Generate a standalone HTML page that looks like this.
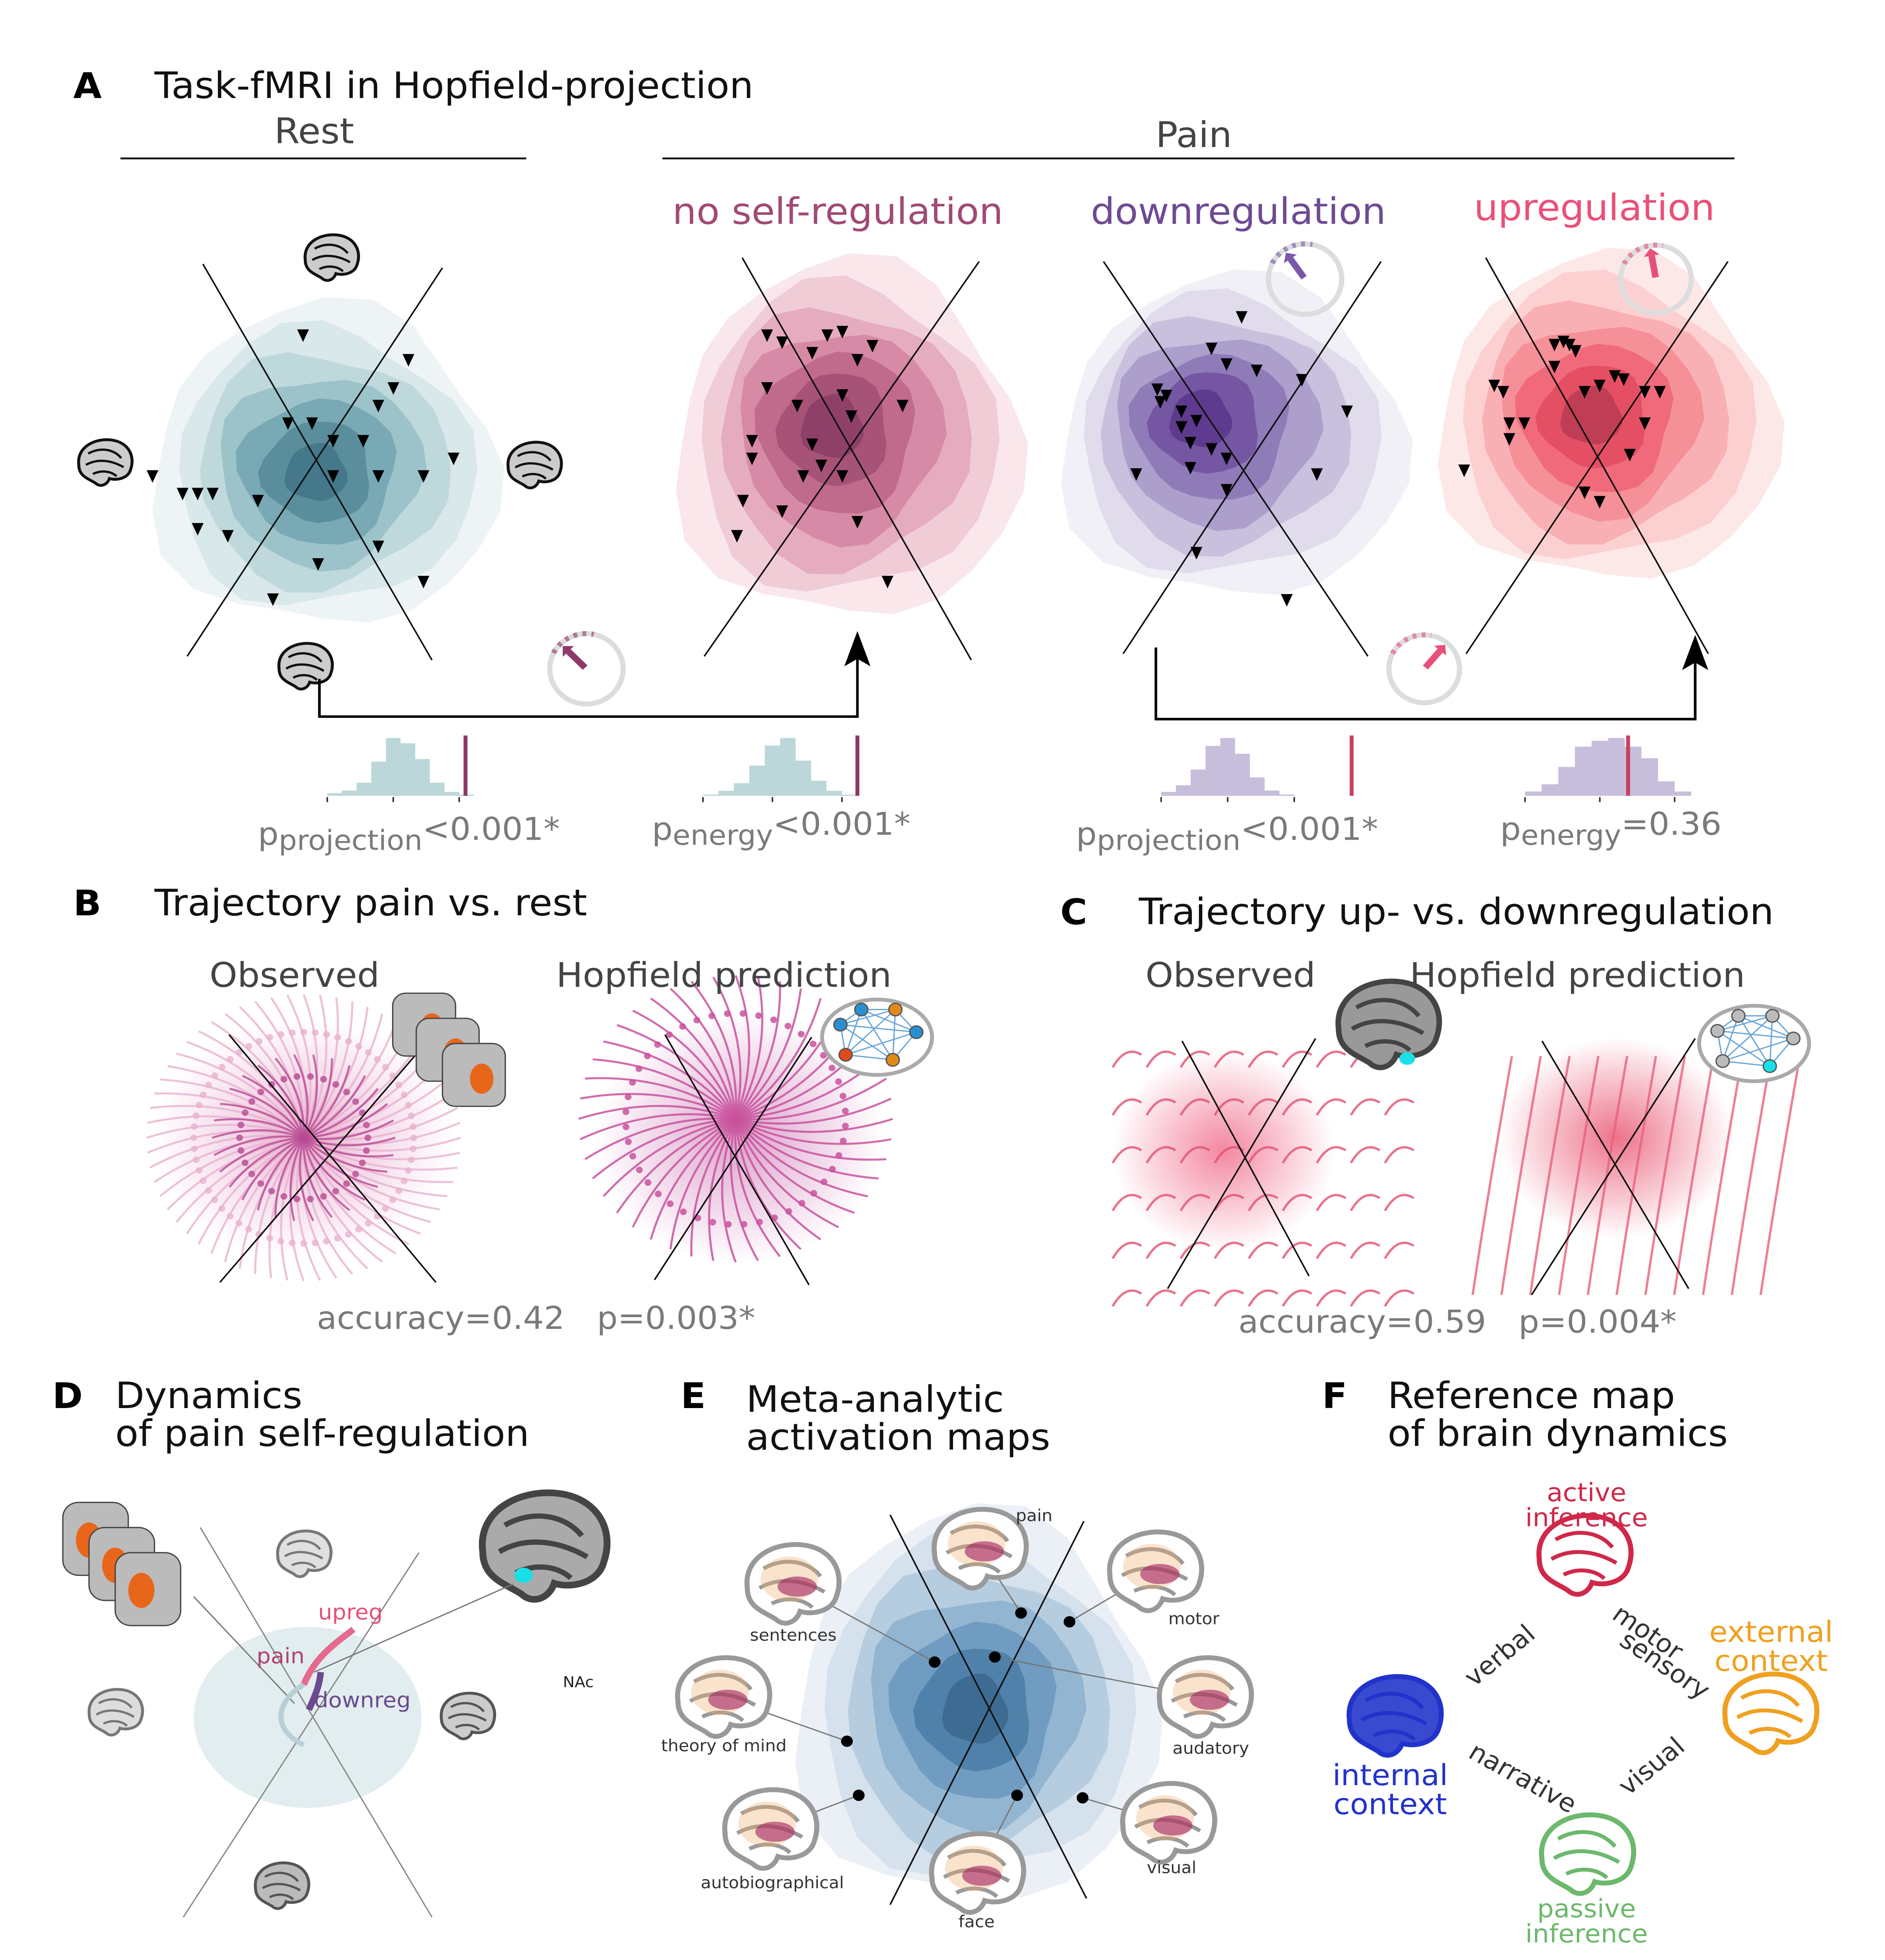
<!DOCTYPE html>
<html><head><meta charset="utf-8">
<style>
html,body{margin:0;padding:0;background:#fff;overflow:hidden;width:100%;height:100%;}
svg{display:block;position:fixed;left:0;top:0;width:100vw;height:100vh;font-family:"DejaVu Sans","Liberation Sans",sans-serif;}
</style></head>
<body>
<svg id="fig" xmlns="http://www.w3.org/2000/svg" viewBox="0 0 1440 1559" preserveAspectRatio="none">
<g id="static">
<text x="56" y="78" font-size="28" font-weight="bold">A</text>
<text x="118" y="78" font-size="29" fill="#111">Task-fMRI in Hopfield-projection</text>
<text x="240" y="114" font-size="28" fill="#444" text-anchor="middle">Rest</text>
<line x1="92" y1="126" x2="402" y2="126" stroke="#111" stroke-width="1.5"/>
<text x="912" y="117" font-size="28" fill="#444" text-anchor="middle">Pain</text>
<line x1="506" y1="126" x2="1325" y2="126" stroke="#111" stroke-width="1.5"/>
<text x="640" y="178" font-size="29" fill="#a04a74" text-anchor="middle">no self-regulation</text>
<text x="946" y="178" font-size="29" fill="#6e4a94" text-anchor="middle">downregulation</text>
<text x="1218" y="175" font-size="29" fill="#ea5078" text-anchor="middle">upregulation</text>

<text x="197" y="672" font-size="25" fill="#7a7a7a">p<tspan font-size="22" dy="4">projection</tspan><tspan dy="-8">&lt;0.001*</tspan></text>
<text x="498" y="668" font-size="25" fill="#7a7a7a">p<tspan font-size="22" dy="4">energy</tspan><tspan dy="-8">&lt;0.001*</tspan></text>
<text x="822" y="672" font-size="25" fill="#7a7a7a">p<tspan font-size="22" dy="4">projection</tspan><tspan dy="-8">&lt;0.001*</tspan></text>
<text x="1146" y="668" font-size="25" fill="#7a7a7a">p<tspan font-size="22" dy="4">energy</tspan><tspan dy="-8">=0.36</tspan></text>

<text x="56" y="728" font-size="28" font-weight="bold">B</text>
<text x="118" y="728" font-size="29" fill="#111">Trajectory pain vs. rest</text>
<text x="225" y="785" font-size="27" fill="#444" text-anchor="middle">Observed</text>
<text x="553" y="785" font-size="27" fill="#444" text-anchor="middle">Hopfield prediction</text>
<text x="242" y="1057" font-size="25" fill="#7a7a7a">accuracy=0.42</text>
<text x="456" y="1057" font-size="25" fill="#7a7a7a">p=0.003*</text>

<text x="810" y="735" font-size="28" font-weight="bold">C</text>
<text x="870" y="735" font-size="29" fill="#111">Trajectory up- vs. downregulation</text>
<text x="940" y="785" font-size="27" fill="#444" text-anchor="middle">Observed</text>
<text x="1205" y="785" font-size="27" fill="#444" text-anchor="middle">Hopfield prediction</text>
<text x="946" y="1060" font-size="25" fill="#7a7a7a">accuracy=0.59</text>
<text x="1160" y="1060" font-size="25" fill="#7a7a7a">p=0.004*</text>

<text x="40" y="1120" font-size="28" font-weight="bold">D</text>
<text x="88" y="1120" font-size="29" fill="#111">Dynamics</text>
<text x="88" y="1150" font-size="29" fill="#111">of pain self-regulation</text>
<text x="520" y="1120" font-size="28" font-weight="bold">E</text>
<text x="570" y="1123" font-size="29" fill="#111">Meta-analytic</text>
<text x="570" y="1153" font-size="29" fill="#111">activation maps</text>
<text x="1010" y="1120" font-size="28" font-weight="bold">F</text>
<text x="1060" y="1120" font-size="29" fill="#111">Reference map</text>
<text x="1060" y="1150" font-size="29" fill="#111">of brain dynamics</text>
</g>
</svg>
<script>
const NS="http://www.w3.org/2000/svg";
const svg=document.getElementById('fig');
function mk(tag,attrs,parent){const e=document.createElementNS(NS,tag);for(const k in attrs)e.setAttribute(k,attrs[k]);(parent||svg).appendChild(e);return e;}

// ---------- data ----------
const restPoints=[[-0.05,-0.35],[0.25,-0.2],[0.3,-0.28],[0.2,-0.15],[-0.1,-0.1],[-0.02,-0.1],[0.05,-0.05],[0.15,-0.05],[0.35,0.05],[-0.55,0.05],[-0.4,0.1],[-0.45,0.1],[-0.35,0.1],[0.05,0.05],[0.2,0.05],[0.45,0.0],[0.05,0.05],[-0.2,0.12],[-0.4,0.2],[-0.3,0.22],[0.2,0.25],[0.0,0.3],[0.35,0.35],[-0.15,0.4]];
const noRegPoints=[[-0.3,-0.35],[-0.25,-0.33],[-0.1,-0.35],[-0.05,-0.36],[-0.15,-0.3],[0.05,-0.32],[0.0,-0.28],[-0.3,-0.2],[-0.2,-0.15],[-0.05,-0.18],[-0.02,-0.12],[-0.35,-0.05],[-0.35,0.0],[-0.15,-0.04],[-0.12,0.02],[-0.18,0.05],[-0.05,0.05],[-0.38,0.12],[-0.25,0.15],[0.0,0.18],[-0.4,0.22],[0.1,0.35],[0.15,-0.15]];
const downPoints=[[-0.05,-0.45],[-0.15,-0.35],[-0.1,-0.3],[0.0,-0.28],[-0.3,-0.2],[-0.33,-0.22],[-0.25,-0.15],[-0.2,-0.12],[-0.25,-0.1],[-0.22,-0.05],[-0.15,-0.03],[-0.1,0.0],[-0.22,0.03],[-0.4,0.05],[-0.1,0.1],[0.2,0.05],[0.15,-0.25],[0.3,-0.15],[-0.2,0.3],[0.1,0.45],[-0.32,-0.18]];
const upPoints=[[-0.15,-0.35],[-0.12,-0.36],[-0.1,-0.35],[-0.08,-0.33],[0.0,-0.22],[0.05,-0.25],[0.08,-0.24],[-0.05,-0.2],[-0.35,-0.22],[-0.32,-0.2],[0.15,-0.2],[0.2,-0.2],[-0.3,-0.1],[-0.25,-0.1],[-0.3,-0.05],[0.15,-0.1],[0.1,0.0],[-0.45,0.05],[-0.05,0.12],[0.0,0.15],[-0.15,-0.28]];
const histCat=['b1','b2','b3','b4','b5','b6','b7','b8','b9','b10'];
const histRest1=[2,4,10,26,44,40,28,10,3,1];
const histRest2=[1,4,10,24,40,46,28,12,4,1];
const histDown1=[3,8,20,38,44,32,14,4,1,0];
const histUp2=[3,8,20,34,38,40,34,26,10,3];
const obsRest1=0.82, obsRest2=1.0, obsDown1=0.92, obsUp2=0.62;

// ---------- helpers ----------
function blob(cx,cy,rx,ry,colors,name,shift){
  const g=mk('g',{});
  
  
  const n=colors.length;
  colors.forEach((c,i)=>{
    const f=1-i/(n+0.3);
    const pts=[];
    for(let k=0;k<24;k++){
      const a=k/24*Math.PI*2;
      const wob=1+0.06*Math.sin(a*3+i)+0.04*Math.cos(a*5+i*2);
      const x=cx+shift[0]*(1-f)+Math.cos(a)*rx*f*wob;
      const y=cy+shift[1]*(1-f)+Math.sin(a)*ry*f*wob;
      pts.push(x.toFixed(1)+','+y.toFixed(1));
    }
    const p=mk('polygon',{points:pts.join(' '),fill:c},g);
    
    
  });
  return g;
}
function xlines(a,b,name,col,w){
  const l1=mk('line',{x1:a[0],y1:a[1],x2:a[2],y2:a[3],stroke:col||'#111','stroke-width':w||1.2});
  
  
  const l2=mk('line',{x1:b[0],y1:b[1],x2:b[2],y2:b[3],stroke:col||'#111','stroke-width':w||1.2});
  
  
}
function tri(pts,cx,cy,sx,sy,name){
  pts.forEach((p,i)=>{
    const x=cx+p[0]*sx,y=cy+p[1]*sy;
    const t=mk('polygon',{points:`${x-4.5},${y-5} ${x+4.5},${y-5} ${x},${y+5}`,fill:'#000'});
    
    
  });
}
function brain(x,y,s,fill,stroke,name){
  const g=mk('g',{transform:`translate(${x},${y}) scale(${s})`});
  
  
  mk('path',{d:'M-22,2 C-24,-14 -8,-22 6,-20 C20,-18 26,-6 22,6 C20,14 10,16 4,14 C2,20 -4,22 -8,18 C-14,14 -22,12 -22,2 Z',fill:fill,stroke:stroke,'stroke-width':2.5},g);
  mk('path',{d:'M-14,-8 C-4,-14 8,-12 14,-4 M-16,2 C-6,-4 6,-2 16,4 M-10,10 C-2,6 6,8 10,12',fill:'none',stroke:stroke,'stroke-width':2},g);
  return g;
}
function dial(cx,cy,r,col,ang,name){
  const g=mk('g',{});
  
  
  mk('circle',{cx:cx,cy:cy,r:r,fill:'none',stroke:'#ddd','stroke-width':4},g);
  mk('path',{d:`M${cx-r*0.9},${cy-r*0.45} A${r},${r} 0 0 1 ${cx+r*0.2},${cy-r*0.98}`,fill:'none',stroke:col,'stroke-width':4,'stroke-dasharray':'3 4',opacity:0.6},g);
  const a=ang*Math.PI/180, x2=cx+Math.cos(a)*r*0.7, y2=cy+Math.sin(a)*r*0.7;
  const x1=cx+Math.cos(a)*r*0.05, y1=cy+Math.sin(a)*r*0.05;
  mk('line',{x1:x1,y1:y1,x2:x2,y2:y2,stroke:col,'stroke-width':5},g);
  const px=Math.cos(a+Math.PI/2)*6, py=Math.sin(a+Math.PI/2)*6;
  mk('polygon',{points:`${x2+Math.cos(a)*6},${y2+Math.sin(a)*6} ${x2+px},${y2+py} ${x2-px},${y2-py}`,fill:col},g);
}
function hist(vals,x0,x1,base,h,col,obs,obsCol,name){
  const max=Math.max(...vals), bw=(x1-x0)/vals.length;
  const xs=v=>x0+v*(x1-x0);
  vals.forEach((v,i)=>{
    const hh=v/max*h;
    const r=mk('rect',{x:x0+i*bw,y:base-hh,width:bw,height:hh,fill:col});
    
    
  });
  const l=mk('line',{x1:xs(obs),y1:base,x2:xs(obs),y2:base-h-2,stroke:obsCol,'stroke-width':3});
  
  
  [0,0.45,0.9].forEach(t=>{const k=mk('line',{x1:x0+t*(x1-x0),y1:base+1,x2:x0+t*(x1-x0),y2:base+5,stroke:'#333','stroke-width':1.2});
    
    });
}

// ---------- panel A ----------
const teal=['#eef4f5','#d9e8ea','#bfd8dc','#9cc3ca','#78a9b4','#5a8e9c','#44788a'];
const pink=['#f9e7ec','#f0ccd7','#e5abbf','#d68aa6','#c06a8c','#a75378','#8f4068'];
const purp=['#f2f0f7','#e1dcec','#c9c0dd','#ac9fcc','#8f7bb8','#7556a3','#5e3b8e'];
const red=['#fde8e8','#fcd0d0','#f9b0b5','#f58f98','#f06a7b','#e44f64','#c03e55'];
blob(248,372,132,128,teal,'rest-density',[-8,5]);
blob(648,352,132,142,pink,'no-regulation-density',[-15,-15]);
blob(942,350,132,128,purp,'downregulation-density',[-30,-20]);
blob(1228,335,130,130,red,'upregulation-density',[-15,-5]);
xlines([155,210,330,525],[338,213,143,522],'rest');
xlines([567,205,742,525],[748,208,538,522],'no-regulation');
xlines([843,208,1045,522],[1055,208,858,520],'downregulation');
xlines([1135,205,1305,520],[1320,208,1120,520],'upregulation');
tri(restPoints,243,365,230,280,'rest');
tri(noRegPoints,655,365,230,280,'no-regulation');
tri(downPoints,960,365,230,250,'downregulation');
tri(upPoints,1222,362,230,250,'upregulation');
brain(253,205,0.9,'#ccc','#111','rest-brain-top');
brain(80,368,0.9,'#ccc','#111','rest-brain-left');
brain(408,370,0.9,'#ccc','#111','rest-brain-right');
brain(233,530,0.9,'#ccc','#111','rest-brain-bottom');
dial(448,532,28,'#8e3a68',-135,'rest-to-pain-dial');
dial(997,222,28,'#7a5aa8',-125,'downregulation-dial');
dial(1265,222,27,'#e8507a',-100,'upregulation-dial');
dial(1088,532,27,'#e8507a',-50,'down-to-up-dial');
function conn(d,ax,ay,name){
  const p=mk('path',{d:d,fill:'none',stroke:'#000','stroke-width':2});
  
  
  const h=mk('polygon',{points:`${ax},${ay} ${ax-10},${ay+28} ${ax},${ay+22} ${ax+10},${ay+28}`,fill:'#000'});
  
  
}
conn('M244,540 L244,570 L655,570 L655,520',655,502,'rest-to-pain-connector');
conn('M883,515 L883,572 L1295,572 L1295,522',1295,505,'down-to-up-connector');
hist(histRest1,250,362,633,46,'#bcd7d9',obsRest1*1.15,'#8a3a62','hist-rest-projection');
hist(histRest2,537,655,633,46,'#bcd7d9',obsRest2,'#8a3a62','hist-rest-energy');
hist(histDown1,887,1000,633,46,'#c7bedb',obsDown1*1.4,'#c8405e','hist-regulation-projection');
hist(histUp2,1165,1292,633,46,'#c7bedb',obsUp2,'#c8405e','hist-regulation-energy');

// ---------- panel B ----------
function haze(cx,cy,rx,ry,col,name){
  const id='g'+name;
  const gr=mk('radialGradient',{id:id});
  mk('stop',{offset:'0',"stop-color":col,"stop-opacity":0.8},gr);
  mk('stop',{offset:'1',"stop-color":col,"stop-opacity":0},gr);
  const e=mk('ellipse',{cx:cx,cy:cy,rx:rx,ry:ry,fill:`url(#${id})`});
  
  
}
function radialStream(cx,cy,R,col,name,n,op){
  for(let i=0;i<n;i++){
    const a=i/n*Math.PI*2;
    const curl=0.35;
    const x0=cx+Math.cos(a)*R, y0=cy+Math.sin(a)*R*0.95;
    const mx=cx+Math.cos(a+curl)*R*0.5, my=cy+Math.sin(a+curl)*R*0.5;
    const p=mk('path',{d:`M${x0.toFixed(1)},${y0.toFixed(1)} Q${mx.toFixed(1)},${my.toFixed(1)} ${cx},${cy}`,fill:'none',stroke:col,'stroke-width':1.6,opacity:op});
    
    
    const tx=cx+Math.cos(a+curl*0.6)*R*0.7, ty=cy+Math.sin(a+curl*0.6)*R*0.7;
    const ar=mk('circle',{cx:tx,cy:ty,r:2.6,fill:col,opacity:op});
    
    
  }
}
haze(232,905,115,95,'#e6a5cc','b-observed-haze');
radialStream(232,905,120,'#e8b2d0','b-observed-outer',60,0.8);
radialStream(232,905,70,'#b84a92','b-observed-inner',30,0.8);
haze(565,905,110,100,'#d58ac0','b-hopfield-haze');
radialStream(562,890,120,'#c9529e','b-hopfield',44,0.85);
xlines([175,823,333,1020],[325,830,168,1020],'b-observed');
xlines([508,823,618,1022],[620,825,500,1018],'b-hopfield');
[[300,790],[318,810],[338,830]].forEach((p,i)=>{
  const r=mk('rect',{x:p[0],y:p[1],width:48,height:50,rx:10,fill:'#bbb',stroke:'#444','stroke-width':1});
  
  
  const o=mk('ellipse',{cx:p[0]+30,cy:p[1]+28,rx:9,ry:12,fill:'#e8661a'});
  
  
});
function net(x,y,colors,name){
  const g=mk('g',{});
  
  
  mk('ellipse',{cx:x,cy:y,rx:42,ry:30,fill:'#fff',stroke:'#aaa','stroke-width':3},g);
  const nodes=[[x-28,y-10],[x-12,y-22],[x+14,y-22],[x+30,y-4],[x+12,y+18],[x-24,y+14]];
  nodes.forEach((a,i)=>nodes.forEach((b,j)=>{if(j>i)mk('line',{x1:a[0],y1:a[1],x2:b[0],y2:b[1],stroke:'#6aa6d8','stroke-width':1},g);}));
  nodes.forEach((a,i)=>mk('circle',{cx:a[0],cy:a[1],r:5,fill:colors[i],stroke:'#555','stroke-width':1},g));
}
net(670,825,['#2a8fd0','#2a8fd0','#e08a1a','#2a8fd0','#e08a1a','#e04a1a'],'b-network-icon');

// ---------- panel C ----------
haze(935,915,85,80,'#f06a8a','c-observed-haze');
haze(1235,905,90,80,'#e8506e','c-hopfield-haze');
for(let i=0;i<9;i++){
  for(let j=0;j<6;j++){
    const x=850+i*26, y=835+j*38;
    const p=mk('path',{d:`M${x},${y+14} q10,-18 22,-10`,fill:'none',stroke:'#e2506e','stroke-width':1.8,opacity:0.8});
    
    
  }
}
for(let i=0;i<11;i++){
  const x=1125+i*22;
  const p=mk('path',{d:`M${x},1030 C${x+10},960 ${x+20},900 ${x+30},840`,fill:'none',stroke:'#e9607a','stroke-width':1.8,opacity:0.8});
  
  
}
xlines([903,828,1000,1015],[1005,826,892,1025],'c-observed');
xlines([1178,828,1290,1025],[1295,826,1170,1030],'c-hopfield');
brain(1060,815,1.7,'#999','#444','c-brain-render');
const cy=mk('ellipse',{cx:1075,cy:842,rx:6,ry:5,fill:'#19e0e8'});
net(1340,830,['#bbb','#bbb','#bbb','#bbb','#19e0e8','#bbb'],'c-network-icon');

// ---------- panel D ----------
const de=mk('ellipse',{cx:235,cy:1366,rx:87,ry:72,fill:'#e2edf0'});
xlines([153,1215,330,1525],[320,1235,140,1525],'d','#888',1);
brain(232,1236,0.9,'#e0e0e0','#777','d-brain-top');
brain(88,1362,0.9,'#ddd','#777','d-brain-left');
brain(357,1365,0.9,'#ccc','#555','d-brain-right');
brain(215,1500,0.9,'#bbb','#555','d-brain-bottom');
[[48,1195],[68,1215],[88,1235]].forEach(p=>{
  const r=mk('rect',{x:p[0],y:p[1],width:50,height:58,rx:12,fill:'#bbb',stroke:'#444','stroke-width':1});
  
  const o=mk('ellipse',{cx:p[0]+20,cy:p[1]+30,rx:10,ry:14,fill:'#e8661a'});
  
});
brain(415,1230,2.1,'#aaa','#444','d-brain-nac');
const dn=mk('ellipse',{cx:400,cy:1253,rx:7,ry:6,fill:'#19e0e8'});
[[148,1270,225,1355],[392,1260,240,1330]].forEach(l=>{const e=mk('line',{x1:l[0],y1:l[1],x2:l[2],y2:l[3],stroke:'#777','stroke-width':1});});
const up=mk('path',{d:'M232,1340 C240,1320 252,1310 270,1296',fill:'none',stroke:'#e46a8e','stroke-width':5});
const dw=mk('path',{d:'M245,1330 C244,1342 240,1350 236,1360',fill:'none',stroke:'#6b4a8e','stroke-width':5});
const lp=mk('path',{d:'M232,1340 C212,1352 206,1375 232,1388',fill:'none',stroke:'#b8cfd6','stroke-width':4});
[['upreg',243,1288,'#e8507a',17],['pain',196,1323,'#b0446e',17],['downreg',240,1358,'#6b4a8e',17],['NAc',430,1342,'#222',12]].forEach(t=>{
  const e=mk('text',{x:t[1],y:t[2],fill:t[3],'font-size':t[4]});e.textContent=t[0];
  
});

// ---------- panel E ----------
const blue=['#ebf0f6','#d5e1ec','#b6cde0','#92b5d1','#6f9cc0','#4f81aa','#3d6b92'];
blob(745,1360,138,155,blue,'e-meta-density',[0,0]);
xlines([680,1205,830,1510],[828,1210,680,1515],'e');
const eLabels=[['pain',790,1210,748,1232,780,1283],['motor',912,1292,882,1250,817,1290],['sentences',606,1305,605,1260,714,1322],['audatory',925,1395,920,1350,760,1318],['theory of mind',553,1393,552,1350,647,1385],['visual',895,1490,892,1450,827,1430],['autobiographical',590,1502,588,1455,656,1428],['face',746,1533,746,1490,777,1428]];
eLabels.forEach(l=>{
  const ln=mk('line',{x1:l[3],y1:l[4],x2:l[5],y2:l[6],stroke:'#777','stroke-width':1});
  
  const d=mk('circle',{cx:l[5],cy:l[6],r:4.5,fill:'#000'});
  
  brain(l[3],l[4],1.55,'#fff','#999','e-brain-'+l[0].replace(/ /g,'-'));
  const h2=mk('ellipse',{cx:l[3]-2,cy:l[4]-4,rx:22,ry:18,fill:'#f0b070',opacity:0.35});
  
  const h=mk('ellipse',{cx:l[3]+4,cy:l[4]+2,rx:15,ry:8,fill:'#a02060',opacity:0.6});
  
  const t=mk('text',{x:l[1],y:l[2],'font-size':13,fill:'#333','text-anchor':'middle'});t.textContent=l[0];
  
});

// ---------- panel F ----------
brain(1210,1237,1.55,'none','#d0284a','f-brain-active');
brain(1352,1363,1.55,'none','#f0a020','f-brain-external');
brain(1065,1365,1.55,'#3a4ad0','#2233cc','f-brain-internal');
brain(1212,1475,1.55,'none','#6cb86c','f-brain-passive');
[['active',1212,1194,'#d0284a'],['inference',1212,1214,'#d0284a'],['external',1353,1306,'#f0a020'],['context',1353,1329,'#f0a020'],['internal',1062,1420,'#2233cc'],['context',1062,1443,'#2233cc'],['passive',1212,1525,'#6cb86c'],['inference',1212,1545,'#6cb86c']].forEach((t,i)=>{
  const e=mk('text',{x:t[1],y:t[2],'font-size':i>=2&&i<=5?23:20,fill:t[3],'text-anchor':'middle'});e.textContent=t[0];
  
});
[['verbal',1150,1322,-40],['motor',1255,1304,35],['sensory',1268,1330,35],['narrative',1160,1420,30],['visual',1266,1410,-40]].forEach(t=>{
  const e=mk('text',{x:t[1],y:t[2],'font-size':20,fill:'#333','text-anchor':'middle',transform:`rotate(${t[3]} ${t[1]} ${t[2]})`});e.textContent=t[0];
  
});
svg.appendChild(document.getElementById('static'));
</script>
</body></html>
